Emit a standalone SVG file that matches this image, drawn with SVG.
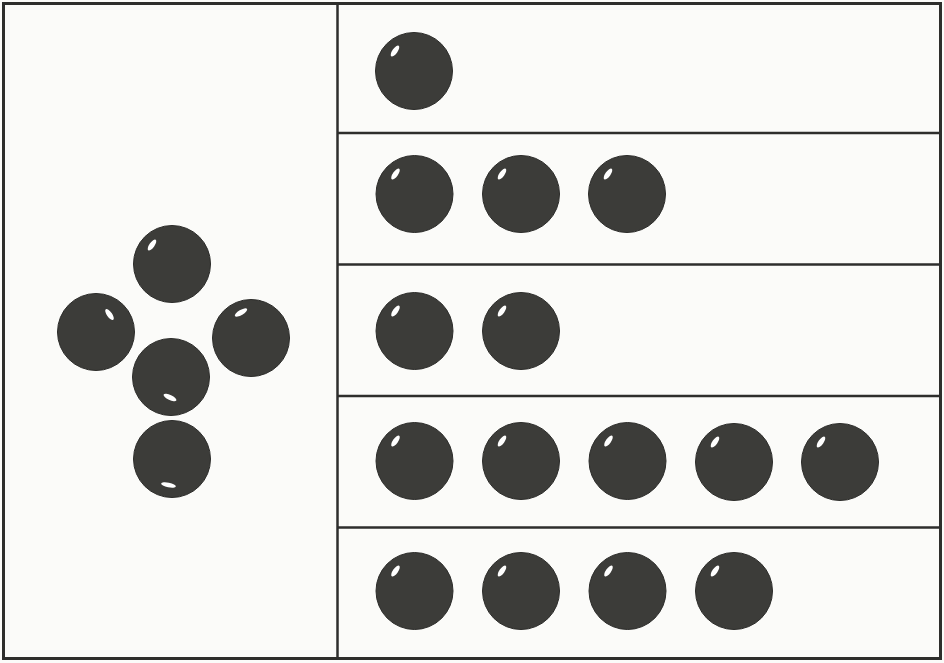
<svg xmlns="http://www.w3.org/2000/svg" xmlns:xlink="http://www.w3.org/1999/xlink" width="944" height="663" viewBox="0 0 944 663">
<style>
.frame{fill:none;stroke:#2e2e2c;stroke-width:3}
.line{stroke:#2e2e2c;stroke-width:2.5}
.ball{fill:#3c3c39;stroke:#2c2c2a;stroke-width:1}
.hl{fill:#ffffff}
</style>
<defs>
<g id="ball">
<circle class="ball" cx="0" cy="0" r="38.5"/>
<ellipse class="hl" cx="-19" cy="-20" rx="2.6" ry="6.5" transform="rotate(35 -19 -20)"/>
</g>
</defs>
<rect x="0" y="0" width="944" height="663" fill="#fbfbf9"/>
<g id="grid">
<rect class="frame" x="3.5" y="3.5" width="937" height="655"/>
<line class="line" x1="337.5" y1="3" x2="337.5" y2="659"/>
<line class="line" x1="337" y1="133" x2="941" y2="133"/>
<line class="line" x1="337" y1="264.5" x2="941" y2="264.5"/>
<line class="line" x1="337" y1="396" x2="941" y2="396"/>
<line class="line" x1="337" y1="527.5" x2="941" y2="527.5"/>
</g>
<g id="cluster">
<g id="c-top"><circle class="ball" cx="172" cy="264" r="38.5"/><ellipse class="hl" cx="152" cy="245" rx="2.6" ry="6.5" transform="rotate(35 152 245)"/></g>
<g id="c-left"><circle class="ball" cx="96" cy="332" r="38.5"/><ellipse class="hl" cx="109.5" cy="314.5" rx="2.6" ry="6.5" transform="rotate(-35 109.5 314.5)"/></g>
<g id="c-right"><circle class="ball" cx="251" cy="338" r="38.5"/><ellipse class="hl" cx="241" cy="312.5" rx="2.6" ry="7" transform="rotate(60 241 312.5)"/></g>
<g id="c-middle"><circle class="ball" cx="171" cy="377" r="38.5"/><ellipse class="hl" cx="170" cy="397.5" rx="7" ry="2.6" transform="rotate(25 170 397.5)"/></g>
<g id="c-bottom"><circle class="ball" cx="172" cy="459" r="38.5"/><ellipse class="hl" cx="168.5" cy="485" rx="7.5" ry="2.3" transform="rotate(12 168.5 485)"/></g>
</g>
<g id="row1"><use xlink:href="#ball" x="414" y="71"/></g>
<g id="row2"><use xlink:href="#ball" x="414.5" y="194"/><use xlink:href="#ball" x="521" y="194"/><use xlink:href="#ball" x="627" y="194"/></g>
<g id="row3"><use xlink:href="#ball" x="414.5" y="331"/><use xlink:href="#ball" x="521" y="331"/></g>
<g id="row4"><use xlink:href="#ball" x="414.5" y="461"/><use xlink:href="#ball" x="521" y="461"/><use xlink:href="#ball" x="627.5" y="461"/><use xlink:href="#ball" x="734" y="462"/><use xlink:href="#ball" x="840" y="462"/></g>
<g id="row5"><use xlink:href="#ball" x="414.5" y="591"/><use xlink:href="#ball" x="521" y="591"/><use xlink:href="#ball" x="627.5" y="591"/><use xlink:href="#ball" x="734" y="591"/></g>
</svg>
